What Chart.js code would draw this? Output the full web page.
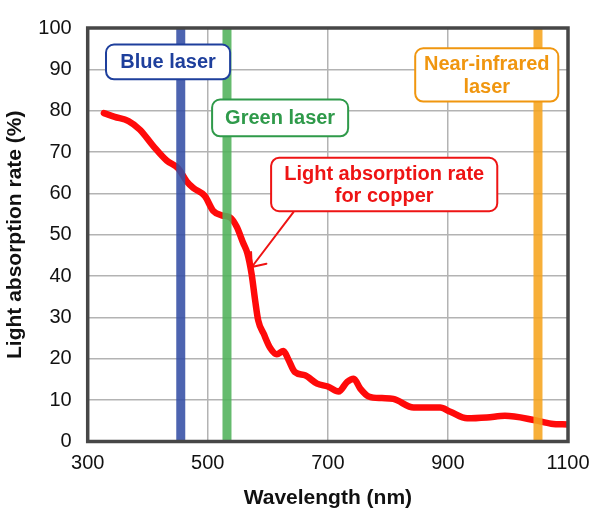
<!DOCTYPE html>
<html>
<head>
<meta charset="utf-8">
<script src="https://cdn.jsdelivr.net/npm/chart.js@4.4.1/dist/chart.umd.min.js"></script>
<style>
html,body{margin:0;padding:0;background:#fff;}
#wrap{width:600px;height:521px;position:relative;}
</style>
</head>
<body>
<div id="wrap"><canvas id="c" width="600" height="521"></canvas></div>
<script>
// ---- data ----
const wavelengths = [327,345,368,387,409,432,451,465,476,495,509,523,537,548,559,566,573,579,584,593,604,615,626,634,645,662,682,700,718,732,743,754,768,790,809,843,887,904,932,965,995,1043,1072,1100];
const absorption  = [79.4,78.5,77.5,75.4,71.5,67.9,66.0,62.9,61.3,59.4,55.8,54.7,54.2,52.0,48.0,45.5,40.5,34.0,29.3,26.1,22.6,21.1,21.9,19.9,16.8,16.0,14.0,13.3,12.1,14.4,15.2,12.8,10.9,10.5,10.3,8.2,8.2,7.2,5.6,5.8,6.2,5.2,4.3,4.1];
const laserNames = ["Blue laser", "Green laser", "Near-infrared laser"];
const laserWavelengths = [455, 532, 1050];
const xTicks = [300, 500, 700, 900, 1100];
const yTicks = [0,10,20,30,40,50,60,70,80,90,100];

// ---- styling / annotation layout (data units) ----
const FONT = "'Liberation Sans', Arial, Helvetica, sans-serif";
const laserColors = ["rgba(52,78,165,0.88)", "rgba(80,178,90,0.88)", "rgba(246,164,30,0.88)"];
const boxes = [
  {lines:["Blue laser"], x1:330.5, x2:537.2, y1:96.0, y2:87.6, color:"#1e3f9c"},
  {lines:["Green laser"], x1:507.2, x2:733.8, y1:82.7, y2:73.8, color:"#2f9a4a"},
  {lines:["Near-infrared","laser"], x1:845.5, x2:1083.8, y1:95.1, y2:82.2, color:"#f0960f"},
  {lines:["Light absorption rate","for copper"], x1:605.5, x2:982.2, y1:68.6, y2:55.7, color:"#ee1414"}
];
const pointer = {from:{x:642.7, y:55.45}, to:{x:573.3, y:42.2}, color:"#ee1414"};

const datasets = laserWavelengths.map((w, i) => ({
  label: laserNames[i],
  data: [{x:w, y:0}, {x:w, y:100}],
  borderColor: laserColors[i],
  borderWidth: 9,
  borderCapStyle: 'butt',
  pointRadius: 0,
  fill: false
}));
datasets.push({
  label: "Light absorption rate for copper",
  data: wavelengths.map((w, i) => ({x:w, y:absorption[i]})),
  borderColor: "#ff0a0a",
  borderWidth: 6.5,
  borderCapStyle: 'round',
  borderJoinStyle: 'round',
  cubicInterpolationMode: 'monotone',
  pointRadius: 0,
  fill: false
});

const pointerPlugin = {
  id: 'pointer',
  beforeDatasetsDraw(chart) {
    const {ctx, scales:{x, y}} = chart;
    const x0 = x.getPixelForValue(pointer.from.x), y0 = y.getPixelForValue(pointer.from.y);
    const x1 = x.getPixelForValue(pointer.to.x), y1 = y.getPixelForValue(pointer.to.y);
    ctx.save();
    ctx.strokeStyle = pointer.color;
    ctx.lineWidth = 2;
    ctx.lineCap = 'round';
    ctx.beginPath();
    ctx.moveTo(x0, y0); ctx.lineTo(x1, y1);
    const ang = Math.atan2(y0 - y1, x0 - x1);
    const L = 15, a = 40 * Math.PI / 180;
    ctx.moveTo(x1, y1); ctx.lineTo(x1 + L*Math.cos(ang + a), y1 + L*Math.sin(ang + a));
    ctx.moveTo(x1, y1); ctx.lineTo(x1 + L*Math.cos(ang - a), y1 + L*Math.sin(ang - a));
    ctx.stroke();
    ctx.restore();
  }
};

function roundRect(ctx, x, y, w, h, r) {
  ctx.beginPath();
  ctx.moveTo(x + r, y);
  ctx.lineTo(x + w - r, y); ctx.arcTo(x + w, y, x + w, y + r, r);
  ctx.lineTo(x + w, y + h - r); ctx.arcTo(x + w, y + h, x + w - r, y + h, r);
  ctx.lineTo(x + r, y + h); ctx.arcTo(x, y + h, x, y + h - r, r);
  ctx.lineTo(x, y + r); ctx.arcTo(x, y, x + r, y, r);
  ctx.closePath();
}

const framePlugin = {
  id: 'frame',
  afterDatasetsDraw(chart) {
    const {ctx, chartArea:a, scales:{x, y}} = chart;
    ctx.save();
    ctx.strokeStyle = "#474747";
    ctx.lineWidth = 3.5;
    ctx.strokeRect(a.left, a.top, a.right - a.left, a.bottom - a.top);
    boxes.forEach(b => {
      const px1 = x.getPixelForValue(b.x1), px2 = x.getPixelForValue(b.x2);
      const py1 = y.getPixelForValue(b.y1), py2 = y.getPixelForValue(b.y2);
      roundRect(ctx, px1, py1, px2 - px1, py2 - py1, 8);
      ctx.fillStyle = "#fff";
      ctx.fill();
      ctx.strokeStyle = b.color;
      ctx.lineWidth = 2;
      ctx.stroke();
      ctx.fillStyle = b.color;
      ctx.font = "bold 20px " + FONT;
      ctx.textAlign = 'center';
      ctx.textBaseline = 'middle';
      const cx = (px1 + px2) / 2, cy = (py1 + py2) / 2;
      const lh = 22.5;
      b.lines.forEach((t, i) => {
        ctx.fillText(t, cx, cy + (i - (b.lines.length - 1) / 2) * lh + 1);
      });
    });
    ctx.restore();
  }
};

new Chart(document.getElementById('c'), {
  type: 'line',
  data: { datasets },
  options: {
    responsive: false,
    animation: false,
    devicePixelRatio: 1,
    layout: { padding: { left: 0, top: 15, right: 32, bottom: 0 } },
    plugins: { legend: { display: false }, tooltip: { enabled: false } },
    scales: {
      x: {
        type: 'linear',
        min: 300, max: 1100,
        afterBuildTicks: s => { s.ticks = xTicks.map(v => ({value: v})); },
        afterFit: s => { s.height = 79.5; },
        ticks: { padding: 10, color: "#111", font: { family: FONT, size: 20 }, maxRotation: 0,
                 callback: v => String(v) },
        grid: { color: "#b3b3b3", lineWidth: 1.5, drawTicks: false },
        border: { display: false },
        title: { display: true, text: "Wavelength (nm)", color: "#111",
                 font: { family: FONT, size: 21, weight: 'bold' }, padding: { top: 0, bottom: 10 } }
      },
      y: {
        type: 'linear',
        min: 0, max: 100,
        afterBuildTicks: s => { s.ticks = yTicks.map(v => ({value: v})); },
        afterFit: s => { s.width = 87.7; },
        ticks: { padding: 16, color: "#111", font: { family: FONT, size: 20 }, callback: v => String(v) },
        grid: { color: "#b3b3b3", lineWidth: 1.5, drawTicks: false },
        border: { display: false },
        title: { display: true, text: "Light absorption rate (%)", color: "#111",
                 font: { family: FONT, size: 21, weight: 'bold' }, padding: { top: 3, bottom: 0 } }
      }
    }
  },
  plugins: [pointerPlugin, framePlugin]
});
</script>
</body>
</html>
